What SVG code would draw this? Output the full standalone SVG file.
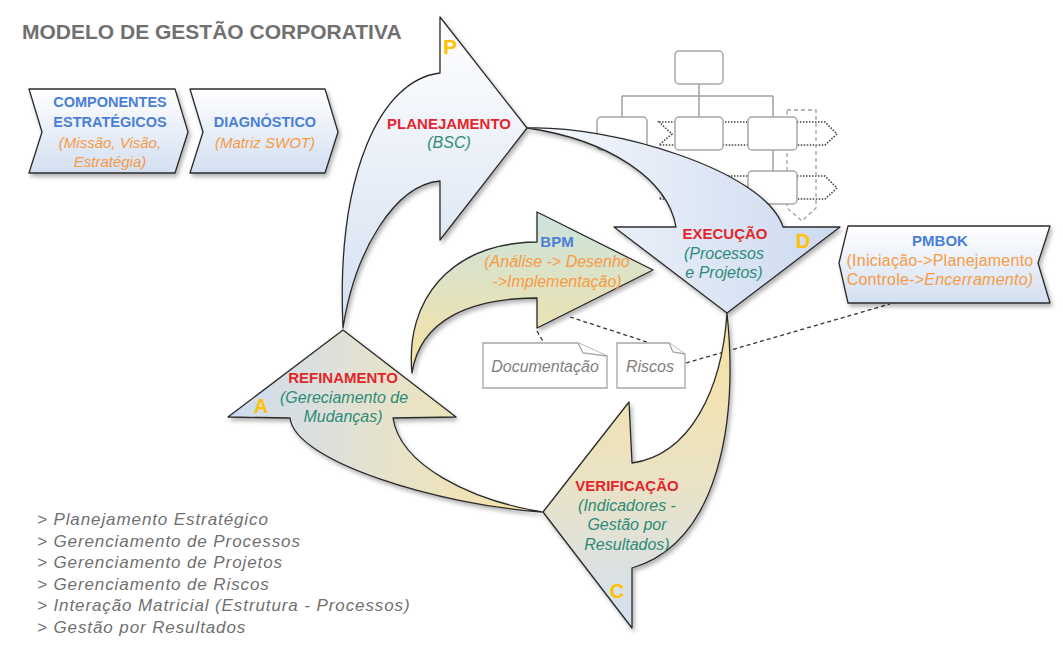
<svg xmlns="http://www.w3.org/2000/svg" width="1063" height="645" viewBox="0 0 1063 645">
<defs>
<linearGradient id="gBlueV" x1="0" y1="0" x2="0" y2="1"><stop offset="0" stop-color="#ffffff"/><stop offset="1" stop-color="#d3dff1"/></linearGradient>
<linearGradient id="gExe" x1="0" y1="0" x2="1" y2="0"><stop offset="0" stop-color="#f7f9fd"/><stop offset="1" stop-color="#cbd9ef"/></linearGradient>
<linearGradient id="gVer" x1="0" y1="0" x2="0" y2="1"><stop offset="0" stop-color="#f8e2a0"/><stop offset="0.55" stop-color="#e9e2c6"/><stop offset="1" stop-color="#d3e0f3"/></linearGradient>
<linearGradient id="gRef" x1="0" y1="0" x2="1" y2="0"><stop offset="0" stop-color="#cddcf2"/><stop offset="0.5" stop-color="#e6e2cc"/><stop offset="1" stop-color="#f8e3a2"/></linearGradient>
<linearGradient id="gBpm" x1="0" y1="0" x2="0" y2="1"><stop offset="0" stop-color="#cbe3de"/><stop offset="1" stop-color="#f8e2a0"/></linearGradient>
<filter id="sh" x="-10%" y="-10%" width="130%" height="130%"><feDropShadow dx="2" dy="3" stdDeviation="2" flood-color="#000" flood-opacity="0.3"/></filter>
</defs>
<style>
.arr{stroke:#2b2b2b;stroke-width:1.3;stroke-linejoin:round;filter:url(#sh)}
.t{font-family:"Liberation Sans",Arial,sans-serif;text-anchor:middle}
.b{font-weight:bold;font-size:15px}
.i{font-style:italic;font-size:16px}
.red{fill:#e3262b}
.teal{fill:#2e8b77}
.blue{fill:#4a7fd6}
.org{fill:#f79a45}
.let{font-weight:bold;font-size:20px;fill:#ffc000}
.box{fill:#fff;stroke:#a6a6a6;stroke-width:1.5}
.ln{fill:none;stroke:#a0a0a0;stroke-width:1.5}
.dot{fill:none;stroke:#444;stroke-width:1.6;stroke-dasharray:1.5 1.5}
.dsh{fill:none;stroke:#a0a0a0;stroke-width:1.3;stroke-dasharray:4 3}
.doc{fill:#fff;stroke:#a6a6a6;stroke-width:1.3}
.con{fill:none;stroke:#333;stroke-width:1.3;stroke-dasharray:4 3}
.lst{font-family:"Liberation Sans",Arial,sans-serif;font-style:italic;font-size:17px;fill:#707070;letter-spacing:0.9px}
</style>
<rect width="1063" height="645" fill="#ffffff"/>
<text x="22" y="39" font-family="'Liberation Sans',Arial,sans-serif" font-weight="bold" font-size="21" fill="#707070">MODELO DE GESTÃO CORPORATIVA</text>

<g id="orgchart">
<path class="dot" d="M659,122 H825 L837,134 L825,145 H659 L672,134 Z"/>
<path class="dot" d="M659,176 H825 L837,188 L825,199 H659 L672,188 Z"/>
<path class="dsh" d="M787,110 H816 V208 L802,221 L787,208 Z"/>
<path class="ln" d="M699,84 V96 M622,96 H773 M622,96 V117 M699,96 V117 M773,96 V117 M773,150 V171"/>
<rect class="box" x="675" y="51" width="48" height="33" rx="4"/>
<rect class="box" x="597" y="117" width="50" height="33" rx="4"/>
<rect class="box" x="675" y="117" width="48" height="33" rx="4"/>
<rect class="box" x="748" y="117" width="49" height="33" rx="4"/>
<rect class="box" x="748" y="171" width="49" height="33" rx="4"/>
</g>

<g id="componentes">
<polygon class="arr" fill="url(#gBlueV)" points="29,89 175,89 188,132 175,173 29,173 42,132"/>
<text class="t b blue" x="110" y="107" style="font-size:14.5px">COMPONENTES</text>
<text class="t b blue" x="110" y="127" style="font-size:14.5px">ESTRATÉGICOS</text>
<text class="t i org" x="110" y="148" style="font-size:15px">(Missão, Visão,</text>
<text class="t i org" x="110" y="167" style="font-size:15px">Estratégia)</text>
</g>

<g id="diagnostico">
<polygon class="arr" fill="url(#gBlueV)" points="190,89 325,89 338,132 325,173 190,173 203,132"/>
<text class="t b blue" x="265" y="127" style="font-size:14.5px">DIAGNÓSTICO</text>
<text class="t i org" x="265" y="148" style="font-size:15px">(Matriz SWOT)</text>
</g>

<g id="connectors">
<line class="con" x1="537" y1="331" x2="544" y2="343"/>
<line class="con" x1="570" y1="317" x2="650" y2="343"/>
<line class="con" x1="686" y1="363" x2="890" y2="304"/>
</g>

<g id="documentacao">
<path class="doc" d="M483,343 H578 L607,356 V388 H483 Z"/>
<path class="doc" d="M578,343 L583,353 L607,356" fill="#f2f2f2"/>
<text class="t i" x="545" y="372" fill="#7f7f7f">Documentação</text>
</g>

<g id="riscos">
<path class="doc" d="M617,343 H669 L685,354 V388 H617 Z"/>
<path class="doc" d="M669,343 L673,352 L685,354" fill="#f2f2f2"/>
<text class="t i" x="650" y="372" fill="#7f7f7f">Riscos</text>
</g>

<g id="planejamento">
<path class="arr" fill="url(#gBlueV)" d="M343,328 C336,175 380,80 440,73 L440,17 L527,128 L440,240 L440,181 C395,185 355,250 343,328 Z"/>
<text class="let" x="450" y="54" style="font-size:21px" text-anchor="middle" font-family="'Liberation Sans',Arial,sans-serif">P</text>
<text class="t b red" x="449" y="129">PLANEJAMENTO</text>
<text class="t i teal" x="449" y="148">(BSC)</text>
</g>

<g id="execucao">
<path class="arr" fill="url(#gExe)" d="M527,128 C610,125 765,170 783,227 L840,227 L727,313 L614,227 L676,227 C668,180 610,140 527,128 Z"/>
<text class="t b red" x="725" y="239">EXECUÇÃO</text>
<text class="t i teal" x="724" y="259">(Processos</text>
<text class="t i teal" x="724" y="278">e Projetos)</text>
<text class="let" x="803" y="248" text-anchor="middle" font-family="'Liberation Sans',Arial,sans-serif">D</text>
</g>

<g id="verificacao">
<path class="arr" fill="url(#gVer)" d="M727,313 C738,420 720,542 632,568 L632,628 L543,512 L629,402 L632,463 C690,455 722,390 727,313 Z"/>
<text class="t b red" x="627" y="491">VERIFICAÇÃO</text>
<text class="t i teal" x="627" y="511">(Indicadores -</text>
<text class="t i teal" x="627" y="530">Gestão por</text>
<text class="t i teal" x="627" y="550">Resultados)</text>
<text class="let" x="617" y="598" text-anchor="middle" font-family="'Liberation Sans',Arial,sans-serif">C</text>
</g>

<g id="refinamento">
<path class="arr" fill="url(#gRef)" d="M542,512 C440,505 295,462 290,418 L228,417 L343,330 L456,417 L393,418 C400,465 470,500 542,512 Z"/>
<text class="t b red" x="343" y="383">REFINAMENTO</text>
<text class="t i teal" x="344" y="403">(Gereciamento de</text>
<text class="t i teal" x="343" y="422">Mudanças)</text>
<text class="let" x="261" y="413" text-anchor="middle" font-family="'Liberation Sans',Arial,sans-serif">A</text>
</g>

<g id="bpm">
<path class="arr" fill="url(#gBpm)" d="M412,373 C405,300 450,243 537,242 L537,212 L653,270 L537,328 L537,298 C470,298 420,320 412,373 Z"/>
<text class="t b blue" x="557" y="247">BPM</text>
<text class="t i org" x="557" y="267">(Análise -&gt; Desenho</text>
<text class="t i org" x="557" y="287">-&gt;Implementação)</text>
</g>

<g id="pmbok">
<polygon class="arr" fill="url(#gBlueV)" points="848,226 1050,226 1038,263 1050,303 848,303 839,263"/>
<text class="t b blue" x="940" y="246">PMBOK</text>
<text class="t org" x="940" y="266" style="font-size:16px;letter-spacing:0.25px">(Iniciação-&gt;Planejamento</text>
<text class="t org" x="940" y="285" style="font-size:16px;letter-spacing:0.25px">Controle-&gt;<tspan font-style="italic">Encerramento)</tspan></text>
</g>

<g id="lista">
<text class="lst" x="37" y="525">&gt; Planejamento Estratégico</text>
<text class="lst" x="37" y="546.5">&gt; Gerenciamento de Processos</text>
<text class="lst" x="37" y="568">&gt; Gerenciamento de Projetos</text>
<text class="lst" x="37" y="589.5">&gt; Gerenciamento de Riscos</text>
<text class="lst" x="37" y="611">&gt; Interação Matricial (Estrutura - Processos)</text>
<text class="lst" x="37" y="632.5">&gt; Gestão por Resultados</text>
</g>
</svg>
